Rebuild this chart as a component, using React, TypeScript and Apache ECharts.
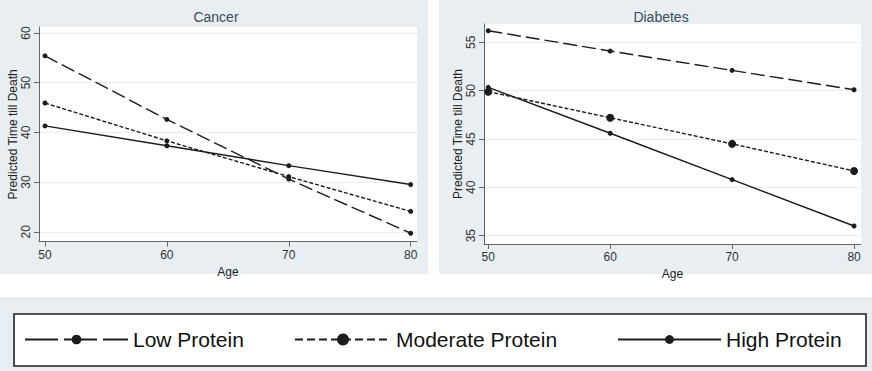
import React, { useEffect, useRef } from "react";
import * as echarts from "echarts";

const ages = [50, 60, 70, 80];
const seriesNames = ["Low Protein", "Moderate Protein", "High Protein"];

const cancerLow = [55.4, 42.6, 30.6, 19.7];
const cancerModerate = [45.9, 38.3, 31.1, 24.1];
const cancerHigh = [41.3, 37.3, 33.3, 29.5];

const diabetesLow = [56.2, 54.1, 52.1, 50.1];
const diabetesModerate = [49.9, 47.2, 44.5, 41.7];
const diabetesHigh = [50.35, 45.6, 40.8, 36.0];

const cancerTicks = [20, 30, 40, 50, 60];
const diabetesTicks = [35, 40, 45, 50, 55];
const ageTicks = [50, 60, 70, 80];

const FONT = "'Liberation Sans', Arial, Helvetica, sans-serif";
const BG = "#e8eef1";
const INK = "#1c1c1c";

const dashStyles = [[14, 5], [4, 2], "solid"] as any[];
const legendDash = [[33, 6], [8, 4], "solid"] as any[];

function pairs(values: number[]) {
  return ages.map((a, i) => [a, values[i]]);
}

export default function App() {
  const ref = useRef<HTMLDivElement>(null);
  useEffect(() => {
    document.body.style.margin = "0";
    const chart = echarts.init(ref.current!, null, { renderer: "svg" });

    const xAxisBase = (gridIndex: number, min: number, max: number, gap: number) => ({
      type: "value",
      gridIndex,
      min,
      max,
      name: "Age",
      nameLocation: "middle",
      nameGap: gap,
      nameTextStyle: { fontFamily: FONT, fontSize: 12, color: "#222" },
      axisLine: { show: true, onZero: false, lineStyle: { color: "#666", width: 1 } },
      axisTick: { show: true, length: 5, customValues: ageTicks, lineStyle: { color: "#666" } },
      axisLabel: { customValues: ageTicks, fontFamily: FONT, fontSize: 12, color: "#333", margin: 7 },
      splitLine: { show: false },
    });
    const yAxisBase = (gridIndex: number, min: number, max: number, ticks: number[]) => ({
      type: "value",
      gridIndex,
      min,
      max,
      name: "Predicted Time till Death",
      nameLocation: "middle",
      nameGap: 20,
      nameTextStyle: { fontFamily: FONT, fontSize: 12, color: "#222" },
      axisLine: { show: true, onZero: false, lineStyle: { color: "#666", width: 1 } },
      axisTick: { show: true, length: 5, customValues: ticks, lineStyle: { color: "#666" } },
      axisLabel: { customValues: ticks, rotate: 90, fontFamily: FONT, fontSize: 12, color: "#333", margin: 7 },
      splitLine: { show: true, lineStyle: { color: "#eaeef0", width: 1 } },
    });

    const panels = [
      [cancerLow, cancerModerate, cancerHigh],
      [diabetesLow, diabetesModerate, diabetesHigh],
    ];
    const series: any[] = [];
    panels.forEach((vals, p) => {
      vals.forEach((v, k) => {
        series.push({
          type: "line",
          name: seriesNames[k],
          xAxisIndex: p,
          yAxisIndex: p,
          data: pairs(v),
          symbol: "circle",
          symbolSize: p === 1 && k === 1 ? 8 : 5,
          itemStyle: { color: INK },
          lineStyle: { color: INK, width: 1.4, type: dashStyles[k] },
          z: 3 + k,
        });
      });
    });

    const legendSpec = [
      { left: 24, w: 103, h: 12 },
      { left: 294, w: 96, h: 15 },
      { left: 617, w: 103, h: 11 },
    ];

    chart.setOption({
      animation: false,
      backgroundColor: "#ffffff",
      title: [
        { text: "Cancer", left: 211, top: 5, textAlign: "center", textStyle: { fontFamily: FONT, fontSize: 14, fontWeight: "normal", color: "#3b4a5e" } },
        { text: "Diabetes", left: 656, top: 5, textAlign: "center", textStyle: { fontFamily: FONT, fontSize: 14, fontWeight: "normal", color: "#3b4a5e" } },
      ],
      graphic: [
        { type: "rect", z: -2, silent: true, shape: { x: 0, y: 0, width: 428, height: 274 }, style: { fill: BG } },
        { type: "rect", z: -2, silent: true, shape: { x: 439, y: 0, width: 433, height: 274 }, style: { fill: BG } },
        { type: "rect", z: -2, silent: true, shape: { x: 0, y: 297, width: 872, height: 74 }, style: { fill: BG } },
        { type: "rect", z: -1, silent: true, shape: { x: 14, y: 314, width: 852, height: 52 }, style: { fill: "#ffffff", stroke: "#222", lineWidth: 1.6 } },
      ],
      grid: [
        { left: 39, top: 27, width: 378, height: 214.7, show: true, backgroundColor: "#ffffff", borderWidth: 0 },
        { left: 484, top: 24, width: 377, height: 220, show: true, backgroundColor: "#ffffff", borderWidth: 0 },
      ],
      xAxis: [xAxisBase(0, 49.51, 80.52, 19), xAxisBase(1, 49.65, 80.57, 17)],
      yAxis: [yAxisBase(0, 18.0, 61.2, cancerTicks), yAxisBase(1, 34.14, 56.9, diabetesTicks)],
      legend: legendSpec.map((s, k) => ({
        data: [seriesNames[k]],
        left: s.left,
        top: 329,
        padding: 0,
        itemWidth: s.w,
        itemHeight: s.h,
        selectedMode: false,
        textStyle: { fontFamily: FONT, fontSize: 21, color: "#111" },
        lineStyle: { width: 2, type: legendDash[k] },
      })),
      series,
    });
    return () => chart.dispose();
  }, []);
  return <div ref={ref} style={{ width: 872, height: 371, position: "absolute", left: 0, top: 0 }} />;
}
